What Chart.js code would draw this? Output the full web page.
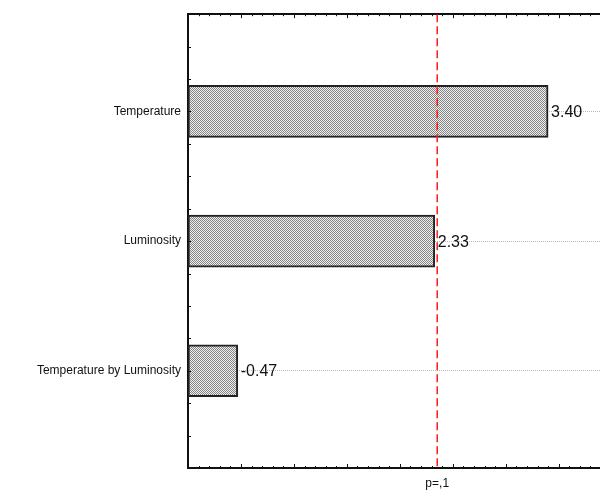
<!DOCTYPE html>
<html>
<head>
<meta charset="utf-8">
<script src="https://cdn.jsdelivr.net/npm/chart.js@4.4.0/dist/chart.umd.min.js"></script>
<style>
  html, body { margin: 0; padding: 0; background: #fff; overflow: hidden; }
  #chart1 { display: block; }
</style>
</head>
<body>
<canvas id="chart1" width="600" height="493"></canvas>
<script>
// pareto of standardized effects
var effects = ['Temperature', 'Luminosity', 'Temperature by Luminosity'];
var tValues = [3.40, 2.33, -0.47];
var pCrit = 2.353;
var pLabel = 'p=,1';
var xMax = 3.89;

// grey hatch fill for the bars
var tile = document.createElement('canvas');
tile.width = 2; tile.height = 2;
var tctx = tile.getContext('2d');
tctx.fillStyle = '#eeeeee';
tctx.fillRect(0, 0, 2, 2);
tctx.fillStyle = '#858585';
tctx.fillRect(0, 0, 1, 1);
tctx.fillRect(1, 1, 1, 1);
var hatch = tctx.createPattern(tile, 'repeat');

// small inward ticks like the original plot
var innerTicks = {
    id: 'innerTicks',
    afterDraw: function (chart) {
        var ctx = chart.ctx, a = chart.chartArea;
        var xs = chart.scales.x, ys = chart.scales.y;
        ctx.save();
        ctx.strokeStyle = '#111';
        ctx.lineWidth = 1;
        ctx.beginPath();
        for (var i = 0; i <= Math.floor(xMax * 10 + 1e-6); i++) {
            var px = Math.round(xs.getPixelForValue(i / 10)) + 0.5;
            var len = (i % 5 === 0) ? 4 : 2;
            ctx.moveTo(px, a.top); ctx.lineTo(px, a.top + len);
            ctx.moveTo(px, a.bottom); ctx.lineTo(px, a.bottom - len);
        }
        for (var v = -0.75; v <= 2.75 + 1e-6; v += 0.25) {
            var py = Math.round(ys.getPixelForValue(v)) + 0.5;
            ctx.moveTo(a.left, py); ctx.lineTo(a.left + 3, py);
        }
        ctx.stroke();
        ctx.restore();
    }
};

// value next to each bar
var valueLabels = {
    id: 'valueLabels',
    afterDatasetsDraw: function (chart) {
        var ctx = chart.ctx;
        var meta = chart.getDatasetMeta(1);
        ctx.save();
        ctx.font = '16px Arial, "Liberation Sans", sans-serif';
        ctx.fillStyle = '#111';
        ctx.textBaseline = 'middle';
        ctx.textAlign = 'left';
        meta.data.forEach(function (el, i) {
            ctx.fillText(tValues[i].toFixed(2), el.x + 3, el.y + 1);
        });
        ctx.restore();
    }
};

var my_ctx = document.getElementById('chart1');
var myChart1 = new Chart(my_ctx, {
    type: 'bar',
    data: {
        datasets: [{
            type: 'line',
            indexAxis: 'y',
            data: [{ x: pCrit, y: -0.75 }, { x: pCrit, y: 2.75 }],
            borderColor: '#ff1a1a',
            borderWidth: 1.5,
            borderDash: [8, 4],
            pointRadius: 0,
            order: 0,
            xAxisID: 'x',
            yAxisID: 'y'
        }, {
            data: tValues.map(function (v, i) { return { x: Math.abs(v), y: i }; }),
            backgroundColor: hatch,
            borderColor: '#222',
            borderWidth: 2,
            borderSkipped: false,
            barThickness: 52,
            order: 1,
            xAxisID: 'x',
            yAxisID: 'y'
        }]
    },
    options: {
        indexAxis: 'y',
        responsive: false,
        animation: false,
        layout: { padding: { top: 13, left: 0, right: 0, bottom: 0 } },
        plugins: { legend: { display: false }, tooltip: { enabled: false } },
        scales: {
            x: {
                type: 'linear',
                position: 'bottom',
                min: 0,
                max: xMax,
                afterBuildTicks: function (s) { s.ticks = [{ value: pCrit }]; },
                afterFit: function (s) { s.height = 25; },
                ticks: {
                    callback: function () { return pLabel; },
                    font: { family: 'Arial, "Liberation Sans", sans-serif', size: 12 },
                    color: '#111',
                    padding: 8,
                    maxRotation: 0,
                    autoSkip: false
                },
                grid: { drawOnChartArea: false, drawTicks: false },
                border: { color: '#111', width: 2 }
            },
            x2: {
                type: 'linear',
                position: 'top',
                min: 0,
                max: xMax,
                afterFit: function (s) { s.height = 0; },
                ticks: { display: false },
                grid: { drawOnChartArea: false, drawTicks: false },
                border: { color: '#111', width: 2 }
            },
            y: {
                type: 'linear',
                reverse: true,
                offset: false,
                min: -0.75,
                max: 2.75,
                afterBuildTicks: function (s) {
                    s.ticks = effects.map(function (_, i) { return { value: i }; });
                },
                afterFit: function (s) { s.width = 188; },
                ticks: {
                    callback: function (v) { return effects[v]; },
                    font: { family: 'Arial, "Liberation Sans", sans-serif', size: 12 },
                    color: '#111',
                    padding: 7,
                    autoSkip: false
                },
                grid: { color: '#b8b8b8', lineWidth: 1, drawTicks: false, offset: false },
                border: { color: '#111', width: 2, dash: [1, 1] }
            }
        }
    },
    plugins: [innerTicks, valueLabels]
});
</script>
</body>
</html>
